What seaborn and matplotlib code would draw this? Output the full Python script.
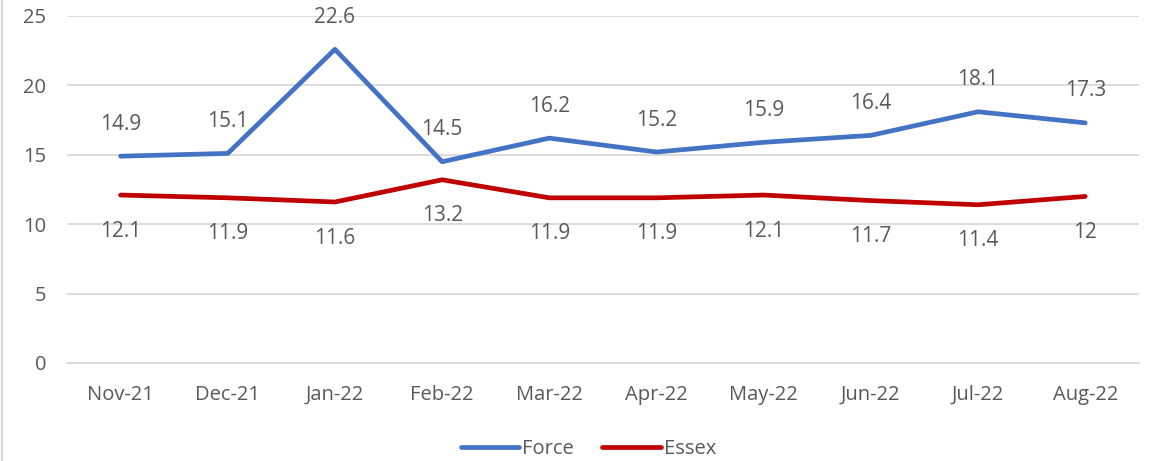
import matplotlib
matplotlib.use("Agg")
import matplotlib.pyplot as plt
import seaborn as sns
import pandas as pd
from matplotlib.lines import Line2D

months = ["Nov-21", "Dec-21", "Jan-22", "Feb-22", "Mar-22", "Apr-22", "May-22", "Jun-22", "Jul-22", "Aug-22"]
force = [14.9, 15.1, 22.6, 14.5, 16.2, 15.2, 15.9, 16.4, 18.1, 17.3]
essex = [12.1, 11.9, 11.6, 13.2, 11.9, 11.9, 12.1, 11.7, 11.4, 12]
force_labels = ["14.9", "15.1", "22.6", "14.5", "16.2", "15.2", "15.9", "16.4", "18.1", "17.3"]
essex_labels = ["12.1", "11.9", "11.6", "13.2", "11.9", "11.9", "12.1", "11.7", "11.4", "12"]

sns.set_theme(style="white")
plt.rcParams['font.family'] = ['Open Sans', 'DejaVu Sans']

df = pd.DataFrame({
    "Month": months * 2,
    "Value": force + essex,
    "Series": ["Force"] * len(months) + ["Essex"] * len(months),
})
df["x"] = list(range(len(months))) * 2

fig = plt.figure(figsize=(11.55, 4.61), dpi=100)
ax = fig.add_axes([0.058, 0.2126, 0.928, 0.7527])

palette = {"Force": "#4472C4", "Essex": "#C00000"}
sns.lineplot(data=df, x="x", y="Value", hue="Series", palette=palette,
             linewidth=3.4, ax=ax, legend=False, solid_capstyle="round")

txt = "#595959"
for i, (v, lab) in enumerate(zip(force, force_labels)):
    ax.annotate(lab, (i, v), xytext=(0, 23), textcoords="offset points",
                ha="center", va="center", fontsize=15, color=txt)
for i, (v, lab) in enumerate(zip(essex, essex_labels)):
    ax.annotate(lab, (i, v), xytext=(0, -26), textcoords="offset points",
                ha="center", va="center", fontsize=15, color=txt)

ax.set_xlim(-0.5, len(months) - 0.5)
ax.set_ylim(0, 25)
ax.set_yticks([0, 5, 10, 15, 20, 25])
ax.set_xticks(range(len(months)))
ax.set_xticklabels(months)
ax.set_xticks([i - 0.5 for i in range(len(months) + 1)], minor=True)
ax.tick_params(axis="x", which="major", length=0, pad=16, labelsize=14.5, labelcolor=txt)
ax.tick_params(axis="x", which="minor", length=6, width=1, color="#D9D9D9", direction="out")
ax.tick_params(axis="y", length=0, pad=15, labelsize=14.5, labelcolor=txt)
ax.yaxis.grid(True, color="#D9D9D9", linewidth=1.3)
ax.xaxis.grid(False)
for s in ["top", "right", "left"]:
    ax.spines[s].set_visible(False)
ax.spines["bottom"].set_color("#D9D9D9")
ax.spines["bottom"].set_linewidth(1.3)
ax.set_xlabel("")
ax.set_ylabel("")

handles = [Line2D([0], [0], color="#4472C4", lw=3.4, solid_capstyle="round"),
           Line2D([0], [0], color="#C00000", lw=3.4, solid_capstyle="round")]
fig.legend(handles, ["Force", "Essex"], loc="center", bbox_to_anchor=(0.5095, 0.026),
           ncol=2, frameon=False, fontsize=14.5, labelcolor=txt,
           handlelength=2.9, handletextpad=0.15, columnspacing=1.4)

fig.add_artist(Line2D([0.002, 0.002], [0, 1], transform=fig.transFigure, color="#D9D9D9", lw=1.5))

fig.savefig("out.png", dpi=100)
